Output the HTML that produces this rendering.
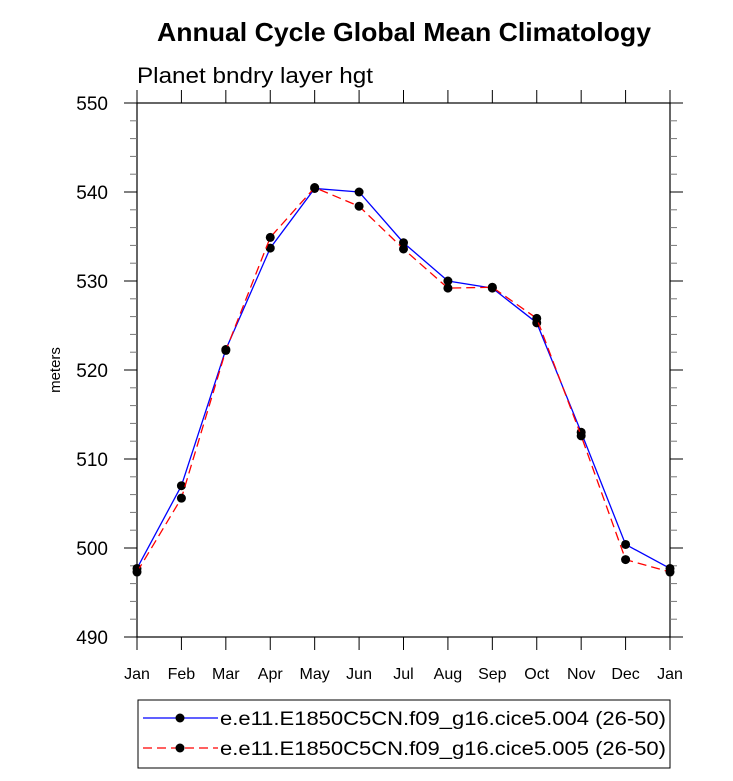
<!DOCTYPE html>
<html><head><meta charset="utf-8"><style>
body{margin:0;background:#fff;font-family:"Liberation Sans",Helvetica,sans-serif}
</style></head><body>
<svg id="chart" width="733" height="776" xmlns="http://www.w3.org/2000/svg" font-family="Liberation Sans, sans-serif">
<text x="404" y="41" text-anchor="middle" font-size="26" font-weight="bold" textLength="494" lengthAdjust="spacingAndGlyphs">Annual Cycle Global Mean Climatology</text>
<text x="137" y="83" font-size="22" textLength="236" lengthAdjust="spacingAndGlyphs">Planet bndry layer hgt</text>
<text transform="translate(60,370) rotate(-90)" text-anchor="middle" font-size="15">meters</text>
<g id="axes"></g>
<g id="series"></g>
<g>
<rect x="138" y="700" width="532" height="68" fill="#fff" stroke="#000" stroke-width="1"/>
<line x1="143" y1="718" x2="218" y2="718" stroke="#0000ff" stroke-width="1.3"/>
<circle cx="180" cy="718" r="4.5" fill="#000"/>
<text x="220" y="725" font-size="19.5" textLength="446" lengthAdjust="spacingAndGlyphs">e.e11.E1850C5CN.f09_g16.cice5.004 (26-50)</text>
<line x1="143" y1="748" x2="218" y2="748" stroke="#ff0000" stroke-width="1.3" stroke-dasharray="9,5"/>
<circle cx="180" cy="748" r="4.5" fill="#000"/>
<text x="220" y="755" font-size="19.5" textLength="446" lengthAdjust="spacingAndGlyphs">e.e11.E1850C5CN.f09_g16.cice5.005 (26-50)</text>
</g>
</svg>
<script>
const months=["Jan","Feb","Mar","Apr","May","Jun","Jul","Aug","Sep","Oct","Nov","Dec","Jan"];
const series004=[497.7,507.0,522.3,533.7,540.4,540.0,534.3,530.0,529.2,525.3,513.0,500.4,497.7];
const series005=[497.3,505.6,522.2,534.9,540.5,538.4,533.6,529.2,529.3,525.8,512.6,498.7,497.3];
const yTicks=[490,500,510,520,530,540,550];
const L=137,R=670,T=103,B=637,ymin=490,ymax=550;
const NS="http://www.w3.org/2000/svg";
function X(i){return L+(R-L)*i/12;}
function Y(v){return B-(v-ymin)/(ymax-ymin)*(B-T);}
function mk(t,a,p){const e=document.createElementNS(NS,t);for(const k in a)e.setAttribute(k,a[k]);p.appendChild(e);return e;}
const ax=document.getElementById('axes');
const frame=mk('rect',{x:L,y:T,width:R-L,height:B-T,fill:'none',stroke:'#000','stroke-width':1.2},ax);


for(let v=ymin;v<=ymax;v+=2){const maj=(v-ymin)%10===0;const len=maj?13:7;
mk('line',{x1:L,x2:L-len,y1:Y(v),y2:Y(v),stroke:maj?'#000':'#777'},ax);
mk('line',{x1:R,x2:R+len,y1:Y(v),y2:Y(v),stroke:maj?'#000':'#777'},ax);}
yTicks.forEach(v=>{const t=mk('text',{x:L-29,y:Y(v)+7,'text-anchor':'end','font-size':19},ax);t.textContent=v;

});
months.forEach((m,i)=>{mk('line',{x1:X(i),x2:X(i),y1:B,y2:B+13,stroke:'#000'},ax);
mk('line',{x1:X(i),x2:X(i),y1:T,y2:T-13,stroke:'#000'},ax);
const t=mk('text',{x:X(i),y:B+42,'text-anchor':'middle','font-size':16},ax);t.textContent=m;

});
const sg=document.getElementById('series');
function draw(vals,color,dash,name){
const pl=mk('polyline',{points:vals.map((v,i)=>X(i)+','+Y(v)).join(' '),fill:'none',stroke:color,'stroke-width':1.3,'stroke-dasharray':dash},sg);


vals.forEach((v,i)=>{const c=mk('circle',{cx:X(i),cy:Y(v),r:4.5,fill:'#000'},sg);

});}
draw(series004,'#0000ff','none','series-004');
draw(series005,'#ff0000','9,5','series-005');
</script>
</body></html>
